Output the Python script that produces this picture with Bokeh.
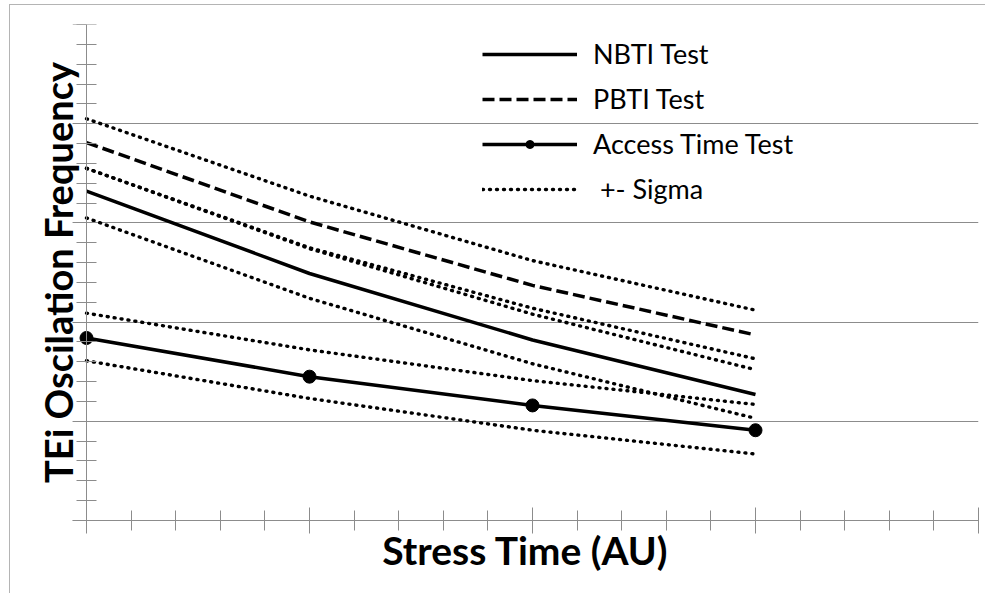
from bokeh.plotting import figure
from bokeh.models import (CustomJSTickFormatter, FixedTicker, Legend, LegendItem,
                          LinearAxis, Range1d)
from bokeh.embed import file_html
from bokeh.resources import INLINE

# Stress time steps (arbitrary units) and measured oscillation frequencies
stress_time = [0, 1, 2, 3]

nbti = [3.32, 2.49, 1.82, 1.27]
nbti_plus = [3.55, 2.74, 2.08, 1.52]
nbti_minus = [3.05, 2.24, 1.58, 1.03]

pbti = [3.81, 3.01, 2.37, 1.87]
pbti_plus = [4.05, 3.27, 2.62, 2.12]
pbti_minus = [3.55, 2.75, 2.14, 1.63]

access = [1.84, 1.45, 1.16, 0.91]
access_plus = [2.09, 1.72, 1.41, 1.17]
access_minus = [1.61, 1.23, 0.91, 0.67]

x_major = [0, 1, 2, 3, 4]
y_major = [0, 1, 2, 3, 4, 5]

AXIS_GREY = "#8c8c8c"
FONT = "Lato"

# the frame starts a little left of x = 0 so the gridlines overhang the y axis
p = figure(
    width=976, height=589,
    output_backend="svg", toolbar_location=None,
    x_range=Range1d(-0.0628, 4), y_range=Range1d(0, 5),
    min_border_left=62, min_border_right=8,
    min_border_top=19, min_border_bottom=74,
)
p.margin = (4, 0, 0, 9)
p.styles = {"border-top": "1px solid #b4b4b4", "border-left": "1px solid #b4b4b4"}
p.outline_line_color = None
p.background_fill_color = "white"
p.border_fill_color = "white"

blank = CustomJSTickFormatter(code="return ''")

# axes: ticks only, no tick labels
p.xaxis.ticker = FixedTicker(ticks=x_major, minor_ticks=[i * 0.2 for i in range(21)])
p.yaxis.ticker = FixedTicker(ticks=y_major, minor_ticks=[i * 0.2 for i in range(26)])
for ax in (p.xaxis[0], p.yaxis[0]):
    ax.formatter = blank
    ax.major_label_text_font_size = "1px"
    ax.axis_line_color = AXIS_GREY
    ax.major_tick_line_color = AXIS_GREY
    ax.minor_tick_line_color = AXIS_GREY
    ax.major_label_standoff = 0
    ax.minor_tick_in = 10
    ax.minor_tick_out = 10

p.xaxis.major_tick_in = 13
p.xaxis.major_tick_out = 13
p.yaxis.major_tick_in = 0
p.yaxis.major_tick_out = 14
p.yaxis.fixed_location = 0

title_style = dict(
    ticker=FixedTicker(ticks=[]),
    axis_line_color=None, major_tick_line_color=None, minor_tick_line_color=None,
    axis_label_text_font=FONT, axis_label_text_font_style="bold",
    axis_label_text_color="black",
)

# axis titles carried by tick-less axes
y_title_axis = LinearAxis(
    axis_label="TEi Oscilation Frequency", axis_label_text_font_size="38px",
    axis_label_standoff=-8, **title_style,
)
p.add_layout(y_title_axis, "left")

x_title_axis = LinearAxis(
    axis_label="Stress Time (AU)", axis_label_text_font_size="39px",
    axis_label_standoff=-7, bounds=(x_major[0], x_major[-1]), **title_style,
)
p.add_layout(x_title_axis, "below")

p.xgrid.grid_line_color = None
p.ygrid.ticker = FixedTicker(ticks=y_major[1:])
p.ygrid.grid_line_color = AXIS_GREY

solid = dict(color="black", line_width=3.5)
dotted = dict(color="black", line_width=3.4, line_dash="1 6", line_cap="round")

r_nbti = p.line(stress_time, nbti, **solid)
r_pbti = p.line(stress_time, pbti, line_dash="12 5", **solid)
r_acc = p.line(stress_time, access, **solid)
r_acc_pts = p.scatter(stress_time, access, size=13, color="black")

sigma_lines = [
    p.line(stress_time, s, **dotted)
    for s in (pbti_plus, pbti_minus, nbti_plus, nbti_minus, access_plus, access_minus)
]

legend = Legend(
    items=[
        LegendItem(label="NBTI Test", renderers=[r_nbti]),
        LegendItem(label="PBTI Test", renderers=[r_pbti]),
        LegendItem(label="Access Time Test", renderers=[r_acc, r_acc_pts]),
        LegendItem(label=" +- Sigma", renderers=[sigma_lines[0]]),
    ],
    location=(410, 315),
    orientation="vertical",
    border_line_color=None,
    background_fill_alpha=0,
    label_text_font=FONT,
    label_text_font_size="27px",
    label_text_color="black",
    glyph_width=95,
    glyph_height=20,
    label_standoff=16,
    spacing=12,
    padding=0,
    margin=0,
)
p.add_layout(legend)

open("out.html", "w").write(file_html(p, INLINE))
